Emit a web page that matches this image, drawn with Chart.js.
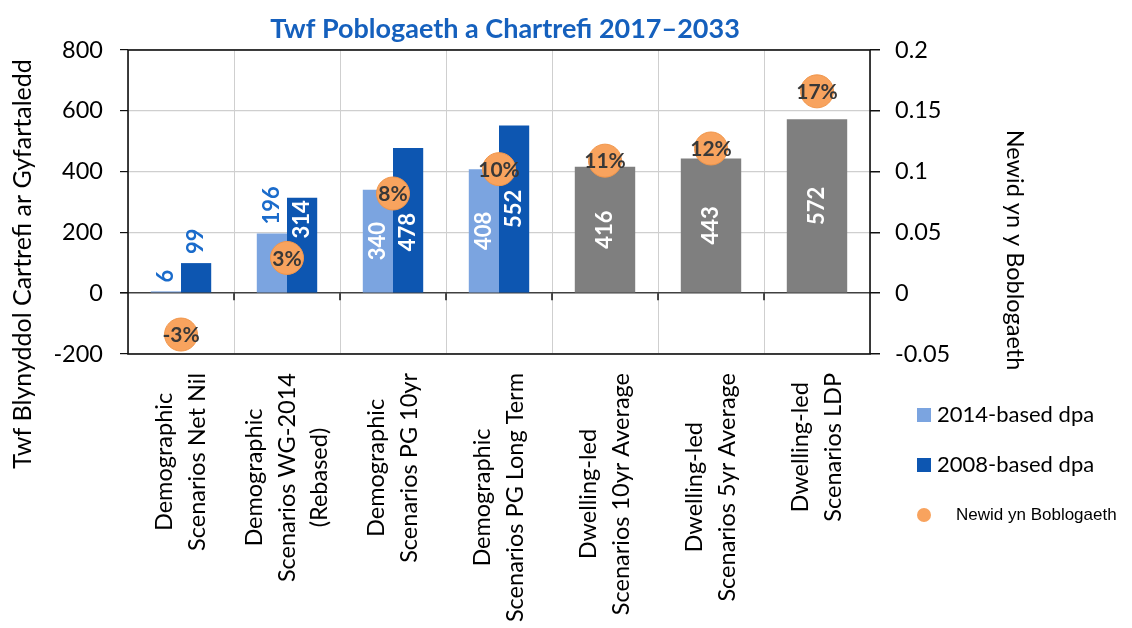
<!DOCTYPE html>
<html><head><meta charset="utf-8">
<script src="https://cdn.jsdelivr.net/npm/chart.js@4.4.1/dist/chart.umd.min.js"></script>
<style>html,body{margin:0;padding:0;background:#fff;overflow:hidden}#wrap{position:relative;width:1132px;height:628px}</style>
</head><body><div id="wrap"><canvas id="c" width="1132" height="628"></canvas></div>
<script>
const chartTitle = 'Twf Poblogaeth a Chartrefi 2017–2033';
const leftAxisTitle = 'Twf Blynyddol Cartrefi ar Gyfartaledd';
const rightAxisTitle = 'Newid yn y Boblogaeth';
const categories = [
  ['Demographic','Scenarios Net Nil'],
  ['Demographic','Scenarios WG-2014','(Rebased)'],
  ['Demographic','Scenarios PG 10yr'],
  ['Demographic','Scenarios PG Long Term'],
  ['Dwelling-led','Scenarios 10yr Average'],
  ['Dwelling-led','Scenarios 5yr Average'],
  ['Dwelling-led','Scenarios LDP']
];
const seriesNames = ['2014-based dpa','2008-based dpa','Dwelling-led','Newid yn Boblogaeth'];
const dpa2014 = [6,196,340,408,null,null,null];
const dpa2008 = [99,314,478,552,null,null,null];
const dwellingLed = [null,null,null,null,416,443,572];
const popChange = [-0.034,0.029,0.082,0.102,0.109,0.119,0.166];
const leftTicks = [-200,0,200,400,600,800];
const rightTicks = [-0.05,0,0.05,0.1,0.15,0.2];

const LIGHT='#7BA4E0', DARK='#0D56B1', GRAY='#7F7F7F', ORANGE='#F8A35E', ORANGE_EDGE='#F0954A';
const GRID='#CFCFCF', OUT_BLUE='#1A6BCB', TITLE_BLUE='#1560BD';
const FONT='Lato';
const POINT_R = 16.5;

function rotText(ctx, text, x, y, ang){
  ctx.save(); ctx.translate(x,y); ctx.rotate(ang); ctx.fillText(text,0,0); ctx.restore();
}

const overlay = {
  id:'overlay',
  afterDatasetDraw(chart, args){
    const ctx = chart.ctx;
    const meta = args.meta;
    const ds = chart.data.datasets[args.index];
    if (meta.type === 'bar') {
      // circles of the line dataset, to avoid label collisions
      const lineMeta = chart.getSortedVisibleDatasetMetas().find(m=>m.type==='line');
      const circles = lineMeta ? lineMeta.data.map(p=>({x:p.x,y:p.y})) : [];
      ctx.save();
      ctx.font = 'bold 22px ' + FONT;
      ctx.textAlign='center'; ctx.textBaseline='middle';
      meta.data.forEach((el,i)=>{
        const v = ds.data[i];
        if (v === null || v === undefined) return;
        const txt = String(v);
        const tw = ctx.measureText(txt).width;
        const h = el.base - el.y;
        if (h >= tw + 30) {
          ctx.fillStyle='#FFFFFF';
          let ly = (el.y+el.base)/2;
          const c = circles[i];
          if (c) {
            const r = POINT_R;
            const xo = Math.abs(c.x - el.x) < r + 9;
            const yo = (ly - tw/2) < c.y + r && (ly + tw/2) > c.y - r;
            if (xo && yo) {
              const top = c.y + r + 3;
              if (top + tw <= el.base - 3) ly = top + tw/2;
              else ly = c.y - r - 3 - tw/2;
            }
          }
          rotText(ctx, txt, el.x, ly, -Math.PI/2);
        } else {
          ctx.fillStyle=OUT_BLUE;
          rotText(ctx, txt, el.x, el.y - 9 - tw/2, -Math.PI/2);
        }
      });
      ctx.restore();
    } else if (meta.type === 'line') {
      ctx.save();
      ctx.font = 'bold 21px ' + FONT;
      ctx.fillStyle='#383838';
      ctx.textAlign='center'; ctx.textBaseline='middle';
      meta.data.forEach((el,i)=>{
        const v = ds.data[i];
        ctx.fillText(Math.round(v*100)+'%', el.x, el.y+1);
      });
      ctx.restore();
    }
  },
  afterDraw(chart){
    const ctx = chart.ctx, a = chart.chartArea, xs = chart.scales.x, ys = chart.scales.y;
    ctx.save();
    // plot border
    ctx.strokeStyle='#111'; ctx.lineWidth=1.6;
    ctx.strokeRect(a.left, a.top, a.right-a.left, a.bottom-a.top);
    // ticks on zero line
    const y0 = ys.getPixelForValue(0);
    ctx.lineWidth=1.5; ctx.strokeStyle='#111';
    for (let i=1;i<categories.length;i++){
      const bx = Math.round((xs.getPixelForValue(i-1)+xs.getPixelForValue(i))/2);
      ctx.beginPath(); ctx.moveTo(bx, y0); ctx.lineTo(bx, y0+7); ctx.stroke();
    }
    // title
    ctx.fillStyle=TITLE_BLUE; ctx.font='bold 27px '+FONT;
    ctx.textAlign='center'; ctx.textBaseline='middle';
    ctx.fillText(chartTitle, 505, 29);
    // axis titles
    ctx.fillStyle='#000'; ctx.font='25px '+FONT;
    rotText(ctx, leftAxisTitle, 23, 264, -Math.PI/2);
    ctx.font='23.5px '+FONT;
    rotText(ctx, rightAxisTitle, 1015, 250, Math.PI/2);
    // category labels
    ctx.font='23.5px '+FONT; ctx.fillStyle='#000';
    const gap = 32.5;
    categories.forEach((lines,i)=>{
      const cx = xs.getPixelForValue(i);
      const maxW = Math.max(...lines.map(l=>ctx.measureText(l).width));
      const cy = 373 + maxW/2;
      lines.forEach((l,j)=>{
        const lx = cx + (j-(lines.length-1)/2)*gap;
        rotText(ctx, l, lx, cy, -Math.PI/2);
      });
    });
    // legend
    ctx.textAlign='left';
    ctx.fillStyle=LIGHT; ctx.fillRect(917,408,14,14);
    ctx.fillStyle=DARK; ctx.fillRect(917,458,14,14);
    ctx.fillStyle='#000'; ctx.font='22px '+FONT;
    ctx.fillText(seriesNames[0], 937, 415);
    ctx.fillText(seriesNames[1], 937, 465);
    ctx.beginPath(); ctx.arc(924,515,7,0,Math.PI*2); ctx.fillStyle=ORANGE; ctx.fill();
    ctx.fillStyle='#000'; ctx.font='17px "Liberation Sans"';
    ctx.fillText(seriesNames[3], 956, 515);
    ctx.restore();
  }
};

new Chart(document.getElementById('c'), {
  type:'bar',
  data:{
    labels: categories,
    datasets:[
      {label:seriesNames[0], data:dpa2014, backgroundColor:LIGHT, yAxisID:'y', order:1},
      {label:seriesNames[1], data:dpa2008, backgroundColor:DARK, yAxisID:'y', order:1},
      {label:seriesNames[2], data:dwellingLed, backgroundColor:GRAY, yAxisID:'y', order:1},
      {type:'line', label:seriesNames[3], data:popChange, yAxisID:'y1', showLine:false, order:0,
       pointRadius:POINT_R, pointHoverRadius:POINT_R, pointBackgroundColor:ORANGE, pointBorderColor:ORANGE_EDGE, pointBorderWidth:1}
    ]
  },
  options:{
    responsive:false, animation:false, devicePixelRatio:1,
    layout:{padding:{top:50,left:0,right:0,bottom:0}},
    datasets:{bar:{categoryPercentage:0.57, barPercentage:1.0, skipNull:true}},
    plugins:{legend:{display:false}, title:{display:false}, tooltip:{enabled:false}},
    scales:{
      x:{offset:true, grid:{offset:true, color:GRID, drawTicks:false}, border:{display:false},
         ticks:{display:false}, afterFit(s){ s.height = 274; }},
      y:{position:'left', min:leftTicks[0], max:leftTicks[leftTicks.length-1],
         afterBuildTicks(s){ s.ticks = leftTicks.map(v=>({value:v})); },
         ticks:{padding:17, color:'#000', font:{family:FONT, size:23.5}, callback:v=>String(v)},
         grid:{color:c=> (c.tick && c.tick.value===0) ? '#404040' : GRID, lineWidth:c=> (c.tick && c.tick.value===0) ? 1.6 : 1.2, tickLength:8, tickColor:'#111'},
         border:{display:false}, afterFit(s){ s.width = 128; }},
      y1:{position:'right', min:rightTicks[0], max:rightTicks[rightTicks.length-1],
         afterBuildTicks(s){ s.ticks = rightTicks.map(v=>({value:v})); },
         ticks:{padding:15, color:'#000', font:{family:FONT, size:23.5}, callback:v=>String(+v.toFixed(2))},
         grid:{drawOnChartArea:false, tickLength:10, tickColor:'#111', lineWidth:1.5},
         border:{display:false}, afterFit(s){ s.width = 262; }}
    }
  },
  plugins:[overlay]
});
</script></body></html>
